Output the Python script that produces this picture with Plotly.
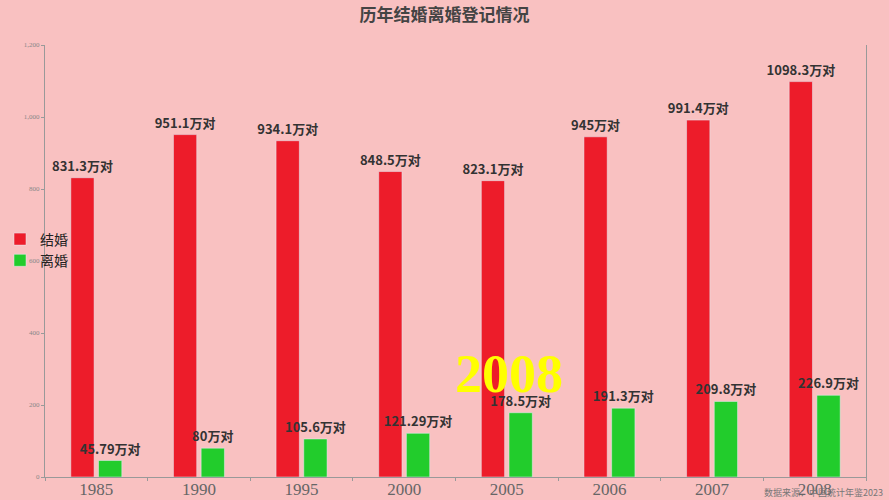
import plotly.graph_objects as go

# 数据
years = ['1985', '1990', '1995', '2000', '2005', '2006', '2007', '2008']
marriage = [831.3, 951.1, 934.1, 848.5, 823.1, 945, 991.4, 1098.3]
divorce = [45.79, 80, 105.6, 121.29, 178.5, 191.3, 209.8, 226.9]

label_font = dict(family='Noto Sans CJK SC', size=13, color='#333333')

fig = go.Figure()
fig.add_trace(go.Bar(x=years, y=marriage, name='结婚', marker_color='#ED1C2A',
                     text=[f'<b>{v}万对</b>' for v in marriage], texttemplate='%{text}',
                     textposition='outside', textfont=label_font, constraintext='none', cliponaxis=False))
fig.add_trace(go.Bar(x=years, y=divorce, name='离婚', marker_color='#22CC2C',
                     text=[f'<b>{v}万对</b>' for v in divorce], texttemplate='%{text}',
                     textposition='outside', textfont=label_font, constraintext='none', cliponaxis=False))

fig.update_layout(
    width=889, height=500,
    paper_bgcolor='#F9C1C1', plot_bgcolor='#F9C1C1',
    margin=dict(l=45, r=23, t=45, b=23, autoexpand=False),
    barmode='group', bargap=0.46, bargroupgap=0.16,
    title=dict(text='<b>历年结婚离婚登记情况</b>', x=0.5, xanchor='center', y=0.97, yanchor='middle',
               font=dict(family='Noto Sans CJK SC', size=17, color='#444444')),
    legend=dict(xref='container', yref='container', x=0, y=0.5, xanchor='left', yanchor='middle',
                font=dict(family='Noto Sans CJK SC', size=14, color='#222222'),
                bgcolor='rgba(0,0,0,0)', itemwidth=30, tracegroupgap=0),
    xaxis=dict(showline=True, linecolor='#999999', linewidth=1, ticks='outside', ticklen=3,
               tickcolor='#999999', tickson='boundaries', showgrid=False, ticklabelstandoff=-3,
               tickfont=dict(family='Liberation Serif', size=17, color='#666666')),
    yaxis=dict(range=[0, 1200], dtick=200, tickformat=',d', showline=True, mirror=True,
               linecolor='#999999', linewidth=1, ticks='outside', ticklen=3, tickcolor='#999999',
               showgrid=False, zeroline=False,
               tickfont=dict(family='Liberation Serif', size=7, color='#888888')),
)

# 时间轴年份
fig.add_annotation(text='<b>2008</b>', xref='paper', yref='paper', x=0.565, y=0.165,
                   showarrow=False, font=dict(family='Liberation Serif', size=54, color='#FFFF00'))
# 数据来源
fig.add_annotation(text='数据来源：中国统计年鉴2023', xref='paper', yref='paper',
                   x=1.023, y=-0.035, xanchor='right', yanchor='middle', showarrow=False,
                   font=dict(family='Noto Sans CJK SC', size=9, color='#777777'))

fig.write_html('out.html', config={'displayModeBar': False},
               post_script="document.body.style.margin='0';document.body.style.overflow='hidden';")
